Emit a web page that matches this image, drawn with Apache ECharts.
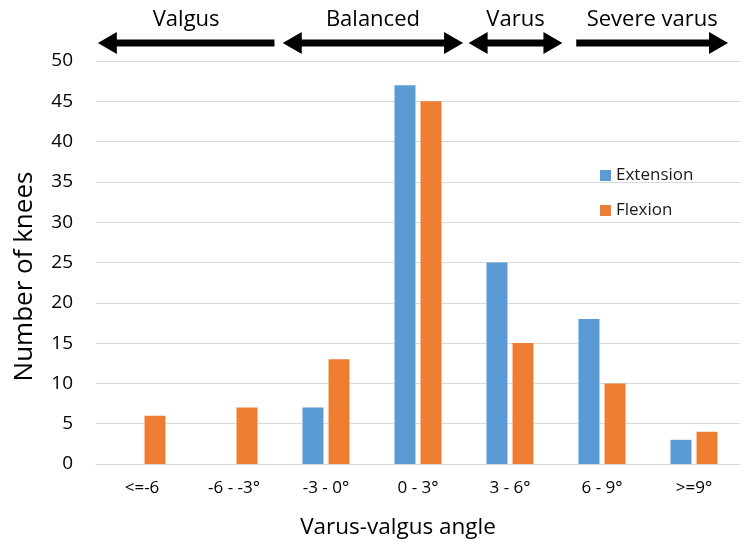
<!DOCTYPE html>
<html><head><meta charset="utf-8">
<script src="https://cdn.jsdelivr.net/npm/echarts@6/dist/echarts.min.js"></script>
<style>html,body{margin:0;padding:0;background:#fff}#c{width:747px;height:544px}</style>
</head><body><div id="c"></div>
<script>
const categories = ['<=-6', '-6 - -3°', '-3 - 0°', '0 - 3°', '3 - 6°', '6 - 9°', '>=9°'];
const extension = [0, 0, 7, 47, 25, 18, 3];
const flexion = [6, 7, 13, 45, 15, 10, 4];
const yTicks = {min: 0, max: 50, interval: 5};
// group annotations: span given in category-index units
const groupLabels = ['Valgus', 'Balanced', 'Varus', 'Severe varus'];
const groupFrom = [-0.48, 1.53, 3.55, 4.72];
const groupTo = [1.44, 3.49, 4.57, 6.37];
const groupLeftHead = [true, true, true, false];
const groupRightHead = [false, true, true, true];

const FONT = 'Open Sans';
const chart = echarts.init(document.getElementById('c'), null, {renderer: 'canvas'});
chart.setOption({
  animation: false,
  textStyle: {fontFamily: FONT, color: '#000'},
  grid: {left: 96, right: 7, top: 61, bottom: 80},
  legend: {
    orient: 'vertical', left: 595, top: 162, itemWidth: 11, itemHeight: 11, itemGap: 18,
    icon: 'rect', textStyle: {fontFamily: FONT, fontSize: 17, color: '#1a1a1a'},
    data: ['Extension', 'Flexion']
  },
  xAxis: {
    type: 'category', data: categories,
    axisLine: {lineStyle: {color: '#D9D9D9', width: 1}},
    axisTick: {show: false},
    axisLabel: {fontFamily: FONT, fontSize: 17, color: '#000', margin: 16},
    name: 'Varus-valgus angle', nameLocation: 'middle', nameGap: 52,
    nameTextStyle: {fontFamily: FONT, fontSize: 22.5, color: '#000', padding: [0, 40, 0, 0]}
  },
  yAxis: {
    type: 'value', min: yTicks.min, max: yTicks.max, interval: yTicks.interval,
    axisLine: {show: false}, axisTick: {show: false},
    axisLabel: {fontFamily: FONT, fontSize: 19, color: '#000', margin: 23},
    splitLine: {lineStyle: {color: '#D9D9D9', width: 1}},
    name: 'Number of knees', nameLocation: 'middle', nameGap: 58,
    nameTextStyle: {fontFamily: FONT, fontSize: 26, color: '#000', padding: [0, 28, 0, 0]}
  },
  series: [
    {name: 'Extension', type: 'bar', data: extension, barWidth: 21, barGap: '24%',
     itemStyle: {color: '#5B9BD5'}},
    {name: 'Flexion', type: 'bar', data: flexion, barWidth: 21,
     itemStyle: {color: '#ED7D31'}}
  ]
});

function arrowPoints(x0, x1, y, hasL, hasR) {
  const hl = 19, hh = 11, t = 3.5;
  const pts = [];
  if (hasL) { pts.push([x0, y], [x0 + hl, y - hh], [x0 + hl, y - t]); }
  else { pts.push([x0, y - t]); }
  if (hasR) { pts.push([x1 - hl, y - t], [x1 - hl, y - hh], [x1, y], [x1 - hl, y + hh], [x1 - hl, y + t]); }
  else { pts.push([x1, y - t], [x1, y + t]); }
  if (hasL) { pts.push([x0 + hl, y + t], [x0 + hl, y + hh]); }
  else { pts.push([x0, y + t]); }
  return pts;
}
const c0 = chart.convertToPixel({xAxisIndex: 0}, 0);
const c1 = chart.convertToPixel({xAxisIndex: 0}, 1);
const step = c1 - c0;
const elements = [];
groupLabels.forEach((label, i) => {
  const x0 = c0 + groupFrom[i] * step;
  const x1 = c0 + groupTo[i] * step;
  elements.push({type: 'polygon', shape: {points: arrowPoints(x0, x1, 43, groupLeftHead[i], groupRightHead[i])},
    style: {fill: '#000'}});
  elements.push({type: 'text', x: (x0 + x1) / 2, y: 20,
    style: {text: label, font: '22px "' + FONT + '"', fill: '#000', align: 'center', verticalAlign: 'middle'}});
});
chart.setOption({graphic: {elements: elements}});
</script></body></html>
